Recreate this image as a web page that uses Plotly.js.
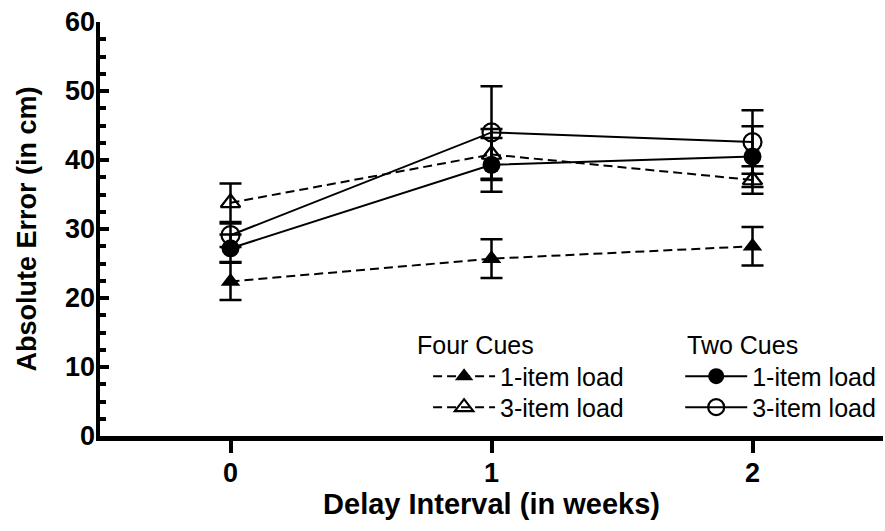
<!DOCTYPE html>
<html>
<head>
<meta charset="utf-8">
<script src="https://cdn.plot.ly/plotly-3.0.1.min.js"></script>
<style>html,body{margin:0;padding:0;background:#fff;}#chart{width:885px;height:531px;}</style>
</head>
<body>
<div id="chart"></div>
<script>
const delayWeeks = [0, 1, 2];
const xTickLabels = ['0', '1', '2'];

const fourCues1Item = [22.4, 25.7, 27.5];
const fourCues1ItemErr = [2.7, 2.8, 2.8];
const fourCues3Item = [33.8, 40.8, 37.1];
const fourCues3ItemErr = [2.8, 3.7, 2.0];
const twoCues1Item = [27.2, 39.3, 40.5];
const twoCues1ItemErr = [2.0, 3.9, 4.4];
const twoCues3Item = [29.1, 44.0, 42.6];
const twoCues3ItemErr = [1.7, 6.7, 4.6];

const groupHeaders = ['Four Cues', 'Two Cues'];
const loadNames = ['1-item load', '3-item load'];

const FONT = 'Liberation Sans, Arial, Helvetica, sans-serif';

function errBar(arr) {
  return {type: 'data', array: arr, visible: true, color: '#000', thickness: 2.5, width: 11};
}

const traces = [
  {x: delayWeeks, y: fourCues1Item, error_y: errBar(fourCues1ItemErr), name: loadNames[0], legend: 'legend',
   mode: 'lines+markers', line: {color: '#000', width: 2, dash: '9px,5px'},
   marker: {symbol: 'triangle-up', size: 17, color: '#000'}},
  {x: delayWeeks, y: fourCues3Item, error_y: errBar(fourCues3ItemErr), name: loadNames[1], legend: 'legend2',
   mode: 'lines+markers', line: {color: '#000', width: 2, dash: '9px,5px'},
   marker: {symbol: 'triangle-up-open', size: 17, color: '#000', line: {color: '#000', width: 2.2}}},
  {x: delayWeeks, y: twoCues1Item, error_y: errBar(twoCues1ItemErr), name: loadNames[0], legend: 'legend3',
   mode: 'lines+markers', line: {color: '#000', width: 2},
   marker: {symbol: 'circle', size: 18, color: '#000'}},
  {x: delayWeeks, y: twoCues3Item, error_y: errBar(twoCues3ItemErr), name: loadNames[1], legend: 'legend4',
   mode: 'lines+markers', line: {color: '#000', width: 2},
   marker: {symbol: 'circle-open', size: 18, color: '#000', line: {color: '#000', width: 2.2}}}
];

function leg(x, y) {
  return {
    x: x, y: y, xanchor: 'left', yanchor: 'middle', bgcolor: 'rgba(0,0,0,0)', borderwidth: 0,
    font: {family: FONT, size: 25, color: '#000'}, itemwidth: 62, tracegroupgap: 0
  };
}

const row1 = 0.144, row2 = 0.069;
const colA = 0.419, colB = 0.741;

const layout = {
  width: 885, height: 531,
  margin: {l: 100, r: 2, t: 22, b: 95, pad: 0},
  paper_bgcolor: '#fff', plot_bgcolor: '#fff',
  showlegend: true,
  legend: leg(colA, row1),
  legend2: leg(colA, row2),
  legend3: leg(colB, row1),
  legend4: leg(colB, row2),
  annotations: [
    {text: groupHeaders[0], xref: 'paper', yref: 'paper', x: 0.4023, y: 0.219, xanchor: 'left', yanchor: 'middle',
     showarrow: false, font: {family: FONT, size: 25, color: '#000'}},
    {text: groupHeaders[1], xref: 'paper', yref: 'paper', x: 0.747, y: 0.219, xanchor: 'left', yanchor: 'middle',
     showarrow: false, font: {family: FONT, size: 25, color: '#000'}}
  ],
  xaxis: {
    range: [-0.5, 2.5], tickvals: delayWeeks, ticktext: xTickLabels,
    showline: true, linecolor: '#000', linewidth: 4.5,
    ticks: 'outside', ticklen: 12, tickwidth: 4, tickcolor: '#000',
    showgrid: false, zeroline: false,
    tickfont: {family: FONT, size: 27, color: '#000', weight: 'bold'},
    ticklabelstandoff: -3,
    title: {text: 'Delay Interval (in weeks)', font: {family: FONT, size: 29, color: '#000', weight: 'bold'}, standoff: 8}
  },
  yaxis: {
    range: [0, 60], dtick: 10, tick0: 0,
    showline: true, linecolor: '#000', linewidth: 4.5,
    ticks: 'inside', ticklen: 9, tickwidth: 4, tickcolor: '#000',
    minor: {dtick: 2.5, ticks: 'inside', ticklen: 6, tickwidth: 4, tickcolor: '#000'},
    showgrid: false, zeroline: false,
    tickfont: {family: FONT, size: 27, color: '#000', weight: 'bold'},
    ticklabelstandoff: -5,
    title: {text: 'Absolute Error (in cm)', font: {family: FONT, size: 27, color: '#000', weight: 'bold'}, standoff: 22}
  }
};

Plotly.newPlot('chart', traces, layout, {displayModeBar: false, staticPlot: true});
</script>
</body>
</html>
